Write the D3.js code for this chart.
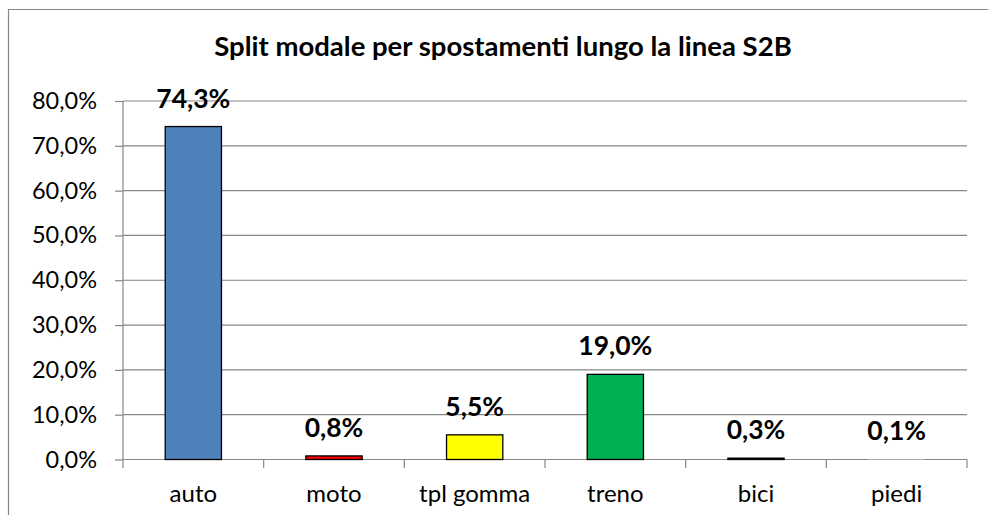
<!DOCTYPE html>
<html>
<head>
<meta charset="utf-8">
<script src="https://cdn.jsdelivr.net/npm/d3@7"></script>
<style>
  body { margin: 0; background: white; overflow: hidden; }
  svg { display: block; }
  text { font-family: Lato, "Open Sans", sans-serif; fill: black; }
</style>
</head>
<body>
<div id="chart"></div>
<script>
// data
var categories = ["auto", "moto", "tpl gomma", "treno", "bici", "piedi"]
var shares = [0.743, 0.008, 0.055, 0.190, 0.003, 0.001]
var barColors = ["#4F81BD", "#FF0000", "#FFFF00", "#00B050", "#595959", "#D9D9D9"]
var yTicks = [0, 0.1, 0.2, 0.3, 0.4, 0.5, 0.6, 0.7, 0.8]
var title = "Split modale per spostamenti lungo la linea S2B"

var sheet = {w: 988, h: 515, left: 123, right: 967, top: 101, bottom: 459.5}
var grey = "#868686"

var it = d3.formatLocale({decimal: ",", thousands: ".", grouping: [3], currency: ["", "€"]})
var pct = it.format(".1%")

var svg = d3.select("#chart")
    .append("svg")
    .attr("width", sheet.w)
    .attr("height", sheet.h)

// outer frame: only left and top edges are inside the window
svg.append("path")
    .attr("d", "M8.5," + (sheet.h + 10) + "V9.5H" + (sheet.w + 20))
    .attr("fill", "none")
    .attr("stroke", grey)
    .attr("stroke-width", 1.2)

svg.append("text")
    .attr("x", 503)
    .attr("y", 56)
    .attr("text-anchor", "middle")
    .attr("font-size", 27.5)
    .attr("font-weight", "bold")
    .text(title)

var x = d3.scaleBand().domain(categories).range([sheet.left, sheet.right]).padding(0)
var y = d3.scaleLinear().domain([0, 0.8]).range([sheet.bottom, sheet.top])

//grid lines
svg.append("g")
    .selectAll("line")
    .data(yTicks)
    .enter()
    .append("line")
    .attr("x1", sheet.left)
    .attr("x2", sheet.right)
    .attr("y1", function(d){return y(d)})
    .attr("y2", function(d){return y(d)})
    .attr("stroke", grey)
    .attr("stroke-width", 1.2)

//axis y
var yAxis = svg.append("g")
    .attr("transform", "translate(" + sheet.left + ",0)")
    .call(d3.axisLeft(y).tickValues(yTicks).tickFormat(pct).tickSize(8).tickPadding(18))
yAxis.selectAll("line, path").attr("stroke", grey).attr("stroke-width", 1.2)
yAxis.select("path").attr("d", "M0," + sheet.top + "V" + sheet.bottom)
yAxis.selectAll("text")
    .attr("font-size", 23.5)
    .attr("font-family", "Lato, sans-serif")
    .attr("fill", "black")

//axis x line and ticks between categories
var bounds = categories.map(function(c){return x(c)}).concat([sheet.right])
svg.append("line")
    .attr("x1", sheet.left).attr("x2", sheet.right)
    .attr("y1", sheet.bottom).attr("y2", sheet.bottom)
    .attr("stroke", grey).attr("stroke-width", 1.2)
svg.append("g")
    .selectAll("line")
    .data(bounds)
    .enter()
    .append("line")
    .attr("x1", function(d){return d}).attr("x2", function(d){return d})
    .attr("y1", sheet.bottom).attr("y2", sheet.bottom + 8.5)
    .attr("stroke", grey).attr("stroke-width", 1.2)

svg.append("g")
    .selectAll("text")
    .data(categories)
    .enter()
    .append("text")
    .attr("x", function(d){return x(d) + x.bandwidth() / 2})
    .attr("y", 502)
    .attr("text-anchor", "middle")
    .attr("font-size", 24)
    .text(function(d){return d})

//bars
var bw = x.bandwidth() * 0.4
var rows = categories.map(function(c, i){return {cat: c, v: shares[i], color: barColors[i]}})
svg.append("g")
    .selectAll("rect")
    .data(rows)
    .enter()
    .append("rect")
    .attr("x", function(d){return x(d.cat) + (x.bandwidth() - bw) / 2})
    .attr("y", function(d){return y(d.v)})
    .attr("width", bw)
    .attr("height", function(d){return sheet.bottom - y(d.v)})
    .attr("fill", function(d){return d.color})
    .attr("stroke", function(d){return d.cat == "piedi" ? "none" : "black"})
    .attr("stroke-width", 1.3)

//value labels
svg.append("g")
    .selectAll("text")
    .data(rows)
    .enter()
    .append("text")
    .attr("x", function(d){return x(d.cat) + x.bandwidth() / 2})
    .attr("y", function(d){return y(d.v) - 19})
    .attr("text-anchor", "middle")
    .attr("font-size", 26.5)
    .attr("font-weight", "bold")
    .text(function(d){return pct(d.v)})
</script>
</body>
</html>
